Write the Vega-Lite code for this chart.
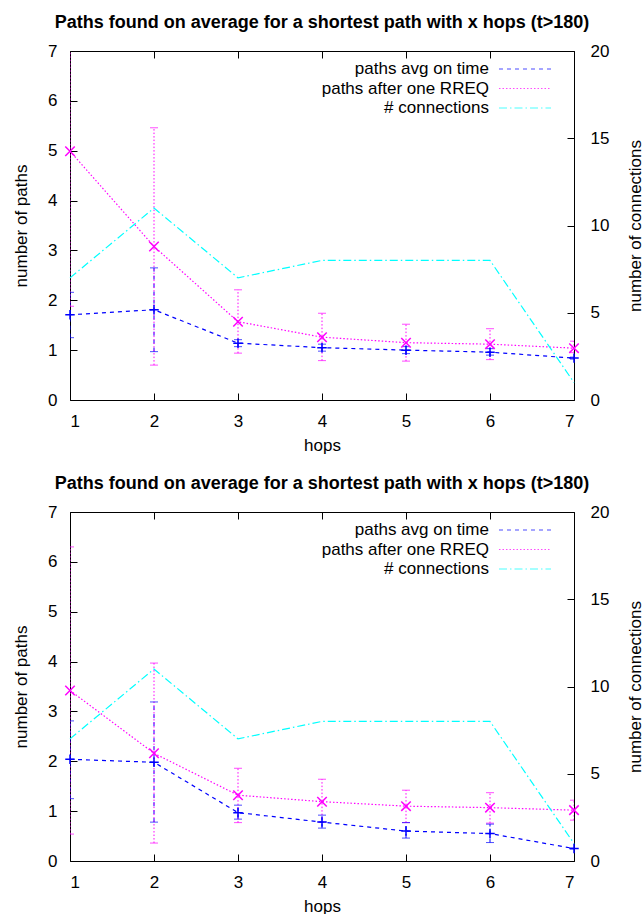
{
  "$schema": "https://vega.github.io/schema/vega-lite/v6.json",
  "padding": {"left": 12, "top": 14, "right": 0, "bottom": 0},
  "config": {
    "font": "Liberation Sans",
    "view": {"stroke": null},
    "axis": {"domainColor": "#000", "domainWidth": 1, "tickColor": "#000", "tickSize": -7, "tickWidth": 1, "labelColor": "#000", "labelFontSize": 17, "titleFontSize": 17, "titleFontWeight": "normal", "titleColor": "#000", "grid": false, "labelPadding": 20, "labelFont": "Liberation Sans", "titleFont": "Liberation Sans"},
    "title": {"fontSize": 18, "fontWeight": "bold", "color": "#000", "baseline": "alphabetic", "offset": 10, "anchor": "middle", "frame": "group", "font": "Liberation Sans"},
    "legend": {"orient": "none", "legendX": 445.5, "legendY": 8.5, "symbolType": "M-3.06,0L3.06,0", "symbolSize": 289, "symbolStrokeWidth": 1.2, "labelFontSize": 17, "labelFont": "Liberation Sans", "labelAlign": "right", "labelOffset": -45.5, "rowPadding": 1.5, "padding": 0, "labelColor": "#000", "labelLimit": 0}
  },
  "datasets": {
    "top": [
      {"series": "paths avg on time", "hops": 1, "value": 1.71, "lo": 1.25, "hi": 2.16},
      {"series": "paths avg on time", "hops": 2, "value": 1.81, "lo": 0.97, "hi": 2.65},
      {"series": "paths avg on time", "hops": 3, "value": 1.14, "lo": 1.07, "hi": 1.21},
      {"series": "paths avg on time", "hops": 4, "value": 1.05, "lo": 0.98, "hi": 1.12},
      {"series": "paths avg on time", "hops": 5, "value": 1.0, "lo": 0.93, "hi": 1.07},
      {"series": "paths avg on time", "hops": 6, "value": 0.96, "lo": 0.9, "hi": 1.03},
      {"series": "paths avg on time", "hops": 7, "value": 0.84, "lo": 0.82, "hi": 0.86},
      {"series": "paths after one RREQ", "hops": 1, "value": 4.99, "lo": 1.88, "hi": 8.1},
      {"series": "paths after one RREQ", "hops": 2, "value": 3.08, "lo": 0.7, "hi": 5.46},
      {"series": "paths after one RREQ", "hops": 3, "value": 1.57, "lo": 0.94, "hi": 2.21},
      {"series": "paths after one RREQ", "hops": 4, "value": 1.26, "lo": 0.79, "hi": 1.74},
      {"series": "paths after one RREQ", "hops": 5, "value": 1.15, "lo": 0.78, "hi": 1.52},
      {"series": "paths after one RREQ", "hops": 6, "value": 1.12, "lo": 0.81, "hi": 1.43},
      {"series": "paths after one RREQ", "hops": 7, "value": 1.04, "lo": 0.95, "hi": 1.18},
      {"series": "# connections", "hops": 1, "value": 7},
      {"series": "# connections", "hops": 2, "value": 11},
      {"series": "# connections", "hops": 3, "value": 7},
      {"series": "# connections", "hops": 4, "value": 8},
      {"series": "# connections", "hops": 5, "value": 8},
      {"series": "# connections", "hops": 6, "value": 8},
      {"series": "# connections", "hops": 7, "value": 1}
    ],
    "bottom": [
      {"series": "paths avg on time", "hops": 1, "value": 2.04, "lo": 1.25, "hi": 2.81},
      {"series": "paths avg on time", "hops": 2, "value": 1.98, "lo": 0.78, "hi": 3.19},
      {"series": "paths avg on time", "hops": 3, "value": 0.97, "lo": 0.84, "hi": 1.12},
      {"series": "paths avg on time", "hops": 4, "value": 0.78, "lo": 0.66, "hi": 0.92},
      {"series": "paths avg on time", "hops": 5, "value": 0.6, "lo": 0.46, "hi": 0.77},
      {"series": "paths avg on time", "hops": 6, "value": 0.55, "lo": 0.37, "hi": 0.74},
      {"series": "paths avg on time", "hops": 7, "value": 0.25, "lo": 0.24, "hi": 0.26},
      {"series": "paths after one RREQ", "hops": 1, "value": 3.42, "lo": 0.54, "hi": 6.3},
      {"series": "paths after one RREQ", "hops": 2, "value": 2.16, "lo": 0.36, "hi": 3.97},
      {"series": "paths after one RREQ", "hops": 3, "value": 1.32, "lo": 0.77, "hi": 1.86},
      {"series": "paths after one RREQ", "hops": 4, "value": 1.19, "lo": 0.78, "hi": 1.64},
      {"series": "paths after one RREQ", "hops": 5, "value": 1.1, "lo": 0.77, "hi": 1.42},
      {"series": "paths after one RREQ", "hops": 6, "value": 1.07, "lo": 0.76, "hi": 1.37},
      {"series": "paths after one RREQ", "hops": 7, "value": 1.02, "lo": 0.82, "hi": 1.22},
      {"series": "# connections", "hops": 1, "value": 7},
      {"series": "# connections", "hops": 2, "value": 11},
      {"series": "# connections", "hops": 3, "value": 7},
      {"series": "# connections", "hops": 4, "value": 8},
      {"series": "# connections", "hops": 5, "value": 8},
      {"series": "# connections", "hops": 6, "value": 8},
      {"series": "# connections", "hops": 7, "value": 1}
    ]
  },
  "spacing": 22,
  "resolve": {
    "scale": {"color": "independent", "strokeDash": "independent", "shape": "independent"},
    "legend": {"color": "independent", "strokeDash": "independent", "shape": "independent"}
  },
  "vconcat": [
    {
      "data": {"name": "top"},
      "width": 504,
      "height": 349,
      "title": {"text": "Paths found on average for a shortest path with x hops (t>180)"},
      "layer": [
        {
          "transform": [{"filter": "datum.series !== '# connections'"}],
          "encoding": {
            "x": {"field": "hops", "type": "quantitative", "scale": {"domain": [1, 7], "nice": false, "zero": false}, "axis": {"orient": "bottom", "values": [1, 2, 3, 4, 5, 6, 7], "format": "d", "title": "hops", "titlePadding": 8}},
            "color": {"field": "series", "type": "nominal", "scale": {"domain": ["paths avg on time", "paths after one RREQ", "# connections"], "range": ["#0000ff", "#ff00ff", "#00ffff"]}, "legend": {"title": null}}
          },
          "layer": [
            {"mark": {"type": "rule", "clip": true, "strokeWidth": 1},
             "encoding": {
               "y": {"field": "lo", "type": "quantitative", "title": "number of paths", "scale": {"domain": [0, 7], "nice": false}, "axis": {"orient": "left", "values": [0, 1, 2, 3, 4, 5, 6, 7], "titlePadding": 17}},
               "y2": {"field": "hi"},
               "strokeDash": {"field": "series", "type": "nominal", "scale": {"domain": ["paths avg on time", "paths after one RREQ", "# connections"], "range": [[4, 4], [1.5, 2], [8, 3, 1.5, 3]]}, "legend": {"title": null}}
             }},
            {"mark": {"type": "tick", "orient": "horizontal", "size": 8, "thickness": 1, "clip": true},
             "encoding": {"y": {"field": "lo", "type": "quantitative", "title": "number of paths"}}},
            {"mark": {"type": "tick", "orient": "horizontal", "size": 8, "thickness": 1, "clip": true},
             "encoding": {"y": {"field": "hi", "type": "quantitative", "title": "number of paths"}}},
            {"mark": {"type": "line", "strokeWidth": 1.2},
             "encoding": {
               "y": {"field": "value", "type": "quantitative", "title": "number of paths"},
               "strokeDash": {"field": "series", "type": "nominal", "scale": {"domain": ["paths avg on time", "paths after one RREQ", "# connections"], "range": [[4, 4], [1.5, 2], [8, 3, 1.5, 3]]}, "legend": {"title": null}}
             }},
            {"mark": {"type": "point", "filled": false, "strokeWidth": 1.5, "size": 90, "opacity": 1},
             "encoding": {
               "y": {"field": "value", "type": "quantitative", "title": "number of paths"},
               "shape": {"field": "series", "type": "nominal", "scale": {"domain": ["paths avg on time", "paths after one RREQ"], "range": ["M-1,0L1,0M0,-1L0,1", "M-1,-1L1,1M-1,1L1,-1"]}, "legend": null}
             }}
          ]
        },
        {
          "transform": [{"filter": "datum.series === '# connections'"}],
          "mark": {"type": "line", "strokeWidth": 1.2},
          "encoding": {
            "x": {"field": "hops", "type": "quantitative", "scale": {"domain": [1, 7], "nice": false, "zero": false}, "axis": {"orient": "top", "values": [1, 2, 3, 4, 5, 6, 7], "labels": false, "title": null}},
            "y": {"field": "value", "type": "quantitative", "scale": {"domain": [0, 20], "nice": false}, "axis": {"orient": "right", "values": [0, 5, 10, 15, 20], "title": "number of connections", "titleAngle": 270, "labelPadding": 23, "titlePadding": 36}},
            "color": {"field": "series", "type": "nominal", "scale": {"domain": ["paths avg on time", "paths after one RREQ", "# connections"], "range": ["#0000ff", "#ff00ff", "#00ffff"]}, "legend": {"title": null}},
            "strokeDash": {"field": "series", "type": "nominal", "scale": {"domain": ["paths avg on time", "paths after one RREQ", "# connections"], "range": [[4, 4], [1.5, 2], [8, 3, 1.5, 3]]}, "legend": {"title": null}}
          }
        }
      ],
      "resolve": {"scale": {"x": "independent", "y": "independent"}}
    },
    {
      "data": {"name": "bottom"},
      "width": 504,
      "height": 349,
      "title": {"text": "Paths found on average for a shortest path with x hops (t>180)"},
      "layer": [
        {
          "transform": [{"filter": "datum.series !== '# connections'"}],
          "encoding": {
            "x": {"field": "hops", "type": "quantitative", "scale": {"domain": [1, 7], "nice": false, "zero": false}, "axis": {"orient": "bottom", "values": [1, 2, 3, 4, 5, 6, 7], "format": "d", "title": "hops", "titlePadding": 8}},
            "color": {"field": "series", "type": "nominal", "scale": {"domain": ["paths avg on time", "paths after one RREQ", "# connections"], "range": ["#0000ff", "#ff00ff", "#00ffff"]}, "legend": {"title": null}}
          },
          "layer": [
            {"mark": {"type": "rule", "clip": true, "strokeWidth": 1},
             "encoding": {
               "y": {"field": "lo", "type": "quantitative", "title": "number of paths", "scale": {"domain": [0, 7], "nice": false}, "axis": {"orient": "left", "values": [0, 1, 2, 3, 4, 5, 6, 7], "titlePadding": 17}},
               "y2": {"field": "hi"},
               "strokeDash": {"field": "series", "type": "nominal", "scale": {"domain": ["paths avg on time", "paths after one RREQ", "# connections"], "range": [[4, 4], [1.5, 2], [8, 3, 1.5, 3]]}, "legend": {"title": null}}
             }},
            {"mark": {"type": "tick", "orient": "horizontal", "size": 8, "thickness": 1, "clip": true},
             "encoding": {"y": {"field": "lo", "type": "quantitative", "title": "number of paths"}}},
            {"mark": {"type": "tick", "orient": "horizontal", "size": 8, "thickness": 1, "clip": true},
             "encoding": {"y": {"field": "hi", "type": "quantitative", "title": "number of paths"}}},
            {"mark": {"type": "line", "strokeWidth": 1.2},
             "encoding": {
               "y": {"field": "value", "type": "quantitative", "title": "number of paths"},
               "strokeDash": {"field": "series", "type": "nominal", "scale": {"domain": ["paths avg on time", "paths after one RREQ", "# connections"], "range": [[4, 4], [1.5, 2], [8, 3, 1.5, 3]]}, "legend": {"title": null}}
             }},
            {"mark": {"type": "point", "filled": false, "strokeWidth": 1.5, "size": 90, "opacity": 1},
             "encoding": {
               "y": {"field": "value", "type": "quantitative", "title": "number of paths"},
               "shape": {"field": "series", "type": "nominal", "scale": {"domain": ["paths avg on time", "paths after one RREQ"], "range": ["M-1,0L1,0M0,-1L0,1", "M-1,-1L1,1M-1,1L1,-1"]}, "legend": null}
             }}
          ]
        },
        {
          "transform": [{"filter": "datum.series === '# connections'"}],
          "mark": {"type": "line", "strokeWidth": 1.2},
          "encoding": {
            "x": {"field": "hops", "type": "quantitative", "scale": {"domain": [1, 7], "nice": false, "zero": false}, "axis": {"orient": "top", "values": [1, 2, 3, 4, 5, 6, 7], "labels": false, "title": null}},
            "y": {"field": "value", "type": "quantitative", "scale": {"domain": [0, 20], "nice": false}, "axis": {"orient": "right", "values": [0, 5, 10, 15, 20], "title": "number of connections", "titleAngle": 270, "labelPadding": 23, "titlePadding": 36}},
            "color": {"field": "series", "type": "nominal", "scale": {"domain": ["paths avg on time", "paths after one RREQ", "# connections"], "range": ["#0000ff", "#ff00ff", "#00ffff"]}, "legend": {"title": null}},
            "strokeDash": {"field": "series", "type": "nominal", "scale": {"domain": ["paths avg on time", "paths after one RREQ", "# connections"], "range": [[4, 4], [1.5, 2], [8, 3, 1.5, 3]]}, "legend": {"title": null}}
          }
        }
      ],
      "resolve": {"scale": {"x": "independent", "y": "independent"}}
    }
  ]
}
